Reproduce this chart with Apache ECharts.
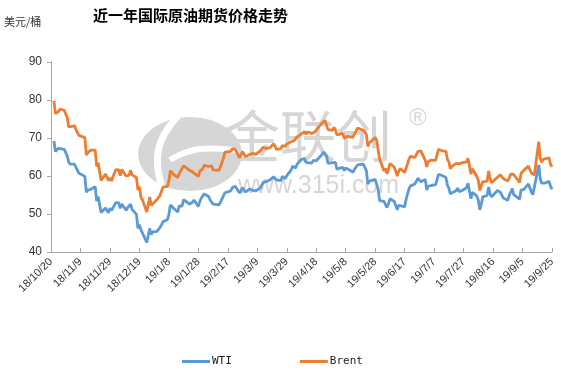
<!DOCTYPE html>
<html>
<head>
<meta charset="utf-8">
<script src="https://cdn.jsdelivr.net/npm/echarts@6/dist/echarts.min.js"></script>
<style>
  html, body { margin: 0; padding: 0; background: #fff; }
  #chart { width: 561px; height: 378px; }
</style>
</head>
<body>
<div id="chart"></div>
<script>
const START_DATE = '2018-10-20'
const Y_TICKS = [40, 50, 60, 70, 80, 90]

const tradeDates = [
  '2018-10-22', '2018-10-23', '2018-10-24', '2018-10-25', '2018-10-26', '2018-10-29', '2018-10-30', '2018-10-31',
  '2018-11-01', '2018-11-02', '2018-11-05', '2018-11-06', '2018-11-07', '2018-11-08', '2018-11-09', '2018-11-12',
  '2018-11-13', '2018-11-14', '2018-11-15', '2018-11-16', '2018-11-19', '2018-11-20', '2018-11-21', '2018-11-23',
  '2018-11-26', '2018-11-27', '2018-11-28', '2018-11-29', '2018-11-30', '2018-12-03', '2018-12-04', '2018-12-05',
  '2018-12-06', '2018-12-07', '2018-12-10', '2018-12-11', '2018-12-12', '2018-12-13', '2018-12-14', '2018-12-17',
  '2018-12-18', '2018-12-19', '2018-12-20', '2018-12-21', '2018-12-24', '2018-12-26', '2018-12-27', '2018-12-28',
  '2018-12-31', '2019-01-02', '2019-01-03', '2019-01-04', '2019-01-07', '2019-01-08', '2019-01-09', '2019-01-10',
  '2019-01-11', '2019-01-14', '2019-01-15', '2019-01-16', '2019-01-17', '2019-01-18', '2019-01-22', '2019-01-23',
  '2019-01-24', '2019-01-25', '2019-01-28', '2019-01-29', '2019-01-30', '2019-01-31', '2019-02-01', '2019-02-04',
  '2019-02-05', '2019-02-06', '2019-02-07', '2019-02-08', '2019-02-11', '2019-02-12', '2019-02-13', '2019-02-14',
  '2019-02-15', '2019-02-19', '2019-02-20', '2019-02-21', '2019-02-22', '2019-02-25', '2019-02-26', '2019-02-27',
  '2019-02-28', '2019-03-01', '2019-03-04', '2019-03-05', '2019-03-06', '2019-03-07', '2019-03-08', '2019-03-11',
  '2019-03-12', '2019-03-13', '2019-03-14', '2019-03-15', '2019-03-18', '2019-03-19', '2019-03-20', '2019-03-21',
  '2019-03-22', '2019-03-25', '2019-03-26', '2019-03-27', '2019-03-28', '2019-03-29', '2019-04-01', '2019-04-02',
  '2019-04-03', '2019-04-04', '2019-04-05', '2019-04-08', '2019-04-09', '2019-04-10', '2019-04-11', '2019-04-12',
  '2019-04-15', '2019-04-16', '2019-04-17', '2019-04-18', '2019-04-22', '2019-04-23', '2019-04-24', '2019-04-25',
  '2019-04-26', '2019-04-29', '2019-04-30', '2019-05-01', '2019-05-02', '2019-05-03', '2019-05-06', '2019-05-07',
  '2019-05-08', '2019-05-09', '2019-05-10', '2019-05-13', '2019-05-14', '2019-05-15', '2019-05-16', '2019-05-17',
  '2019-05-20', '2019-05-21', '2019-05-22', '2019-05-23', '2019-05-24', '2019-05-28', '2019-05-29', '2019-05-30',
  '2019-05-31', '2019-06-03', '2019-06-04', '2019-06-05', '2019-06-06', '2019-06-07', '2019-06-10', '2019-06-11',
  '2019-06-12', '2019-06-13', '2019-06-14', '2019-06-17', '2019-06-18', '2019-06-19', '2019-06-20', '2019-06-21',
  '2019-06-24', '2019-06-25', '2019-06-26', '2019-06-27', '2019-06-28', '2019-07-01', '2019-07-02', '2019-07-03',
  '2019-07-05', '2019-07-08', '2019-07-09', '2019-07-10', '2019-07-11', '2019-07-12', '2019-07-15', '2019-07-16',
  '2019-07-17', '2019-07-18', '2019-07-19', '2019-07-22', '2019-07-23', '2019-07-24', '2019-07-25', '2019-07-26',
  '2019-07-29', '2019-07-30', '2019-07-31', '2019-08-01', '2019-08-02', '2019-08-05', '2019-08-06', '2019-08-07',
  '2019-08-08', '2019-08-09', '2019-08-12', '2019-08-13', '2019-08-14', '2019-08-15', '2019-08-16', '2019-08-19',
  '2019-08-20', '2019-08-21', '2019-08-22', '2019-08-23', '2019-08-26', '2019-08-27', '2019-08-28', '2019-08-29',
  '2019-08-30', '2019-09-03', '2019-09-04', '2019-09-05', '2019-09-06', '2019-09-09', '2019-09-10', '2019-09-11',
  '2019-09-12', '2019-09-13', '2019-09-16', '2019-09-17', '2019-09-18', '2019-09-19', '2019-09-20', '2019-09-23',
  '2019-09-24', '2019-09-25',
]

const wtiPrices = [
  69.2, 66.4, 66.8, 67.3, 67.6, 67.0, 66.2, 65.3,
  63.7, 63.1, 63.1, 62.2, 61.7, 60.7, 60.2, 59.9,
  55.7, 56.3, 56.5, 56.5, 57.2, 53.4, 54.6, 50.4,
  51.6, 51.6, 50.3, 51.5, 50.9, 53.0, 53.3, 52.9,
  51.5, 52.6, 51.0, 51.7, 51.2, 52.6, 51.2, 49.9,
  46.2, 47.2, 45.9, 45.6, 42.5, 46.2, 44.6, 45.3,
  45.4, 46.5, 47.1, 48.0, 48.5, 49.8, 52.4, 52.6,
  51.6, 50.5, 52.1, 52.3, 52.1, 53.8, 52.6, 52.6,
  53.1, 53.7, 52.0, 53.3, 54.2, 53.8, 55.3, 54.6,
  53.7, 54.0, 52.6, 52.7, 52.4, 53.1, 53.9, 54.4,
  55.6, 56.1, 56.9, 57.3, 57.3, 55.5, 55.5, 56.9,
  57.2, 55.8, 56.6, 56.6, 56.2, 56.7, 56.1, 56.8,
  56.9, 58.3, 58.6, 58.5, 59.1, 59.0, 59.8, 60.0,
  59.0, 58.8, 59.9, 59.4, 59.3, 60.1, 61.6, 62.6,
  62.5, 62.1, 63.1, 64.4, 64.1, 64.6, 63.6, 63.9,
  63.4, 64.1, 63.8, 64.0, 65.7, 66.3, 65.9, 65.2,
  63.3, 63.5, 63.9, 63.6, 61.8, 61.9, 62.3, 61.4,
  62.1, 61.7, 61.7, 61.0, 61.8, 62.0, 62.9, 62.8,
  63.1, 63.0, 61.4, 57.9, 58.6, 59.1, 58.8, 56.6,
  53.5, 53.3, 53.5, 51.7, 52.6, 54.0, 53.3, 53.3,
  51.1, 52.3, 52.5, 51.9, 53.9, 53.8, 56.7, 57.4,
  57.9, 57.8, 59.4, 59.4, 58.5, 59.1, 56.3, 57.3,
  57.5, 57.7, 57.8, 60.4, 60.2, 60.2, 59.6, 57.6,
  56.8, 55.3, 55.6, 56.2, 56.8, 55.9, 56.0, 56.2,
  56.9, 58.1, 58.6, 54.0, 55.7, 54.7, 53.6, 51.1,
  52.5, 54.5, 54.9, 57.1, 55.2, 54.5, 54.9, 56.2,
  56.3, 55.7, 55.4, 54.2, 53.6, 54.9, 55.8, 56.7,
  55.1, 53.9, 56.3, 56.3, 56.5, 57.9, 57.4, 55.8,
  55.1, 54.9, 62.9, 59.3, 58.1, 58.1, 58.1, 58.6,
  57.3, 56.5,
]

const brentPrices = [
  79.8, 76.4, 76.2, 76.9, 77.6, 77.3, 76.3, 75.5,
  72.9, 72.8, 73.2, 72.1, 72.1, 70.7, 70.2, 70.1,
  65.5, 66.1, 66.6, 66.8, 66.8, 62.5, 63.5, 58.8,
  60.5, 60.2, 58.8, 59.5, 58.7, 61.7, 62.1, 61.6,
  60.1, 61.7, 60.0, 60.2, 60.2, 61.5, 60.3, 59.6,
  56.3, 57.2, 54.4, 53.8, 50.5, 54.5, 52.2, 52.2,
  53.8, 54.9, 56.0, 57.1, 57.3, 58.7, 61.4, 61.7,
  60.5, 59.6, 60.6, 61.3, 61.2, 62.7, 61.5, 61.1,
  61.1, 61.6, 59.9, 61.3, 61.7, 61.9, 62.8, 62.5,
  62.0, 62.7, 61.6, 62.1, 61.5, 62.4, 63.6, 64.6,
  66.3, 66.5, 67.1, 67.1, 67.1, 64.8, 65.2, 66.4,
  66.3, 65.1, 65.7, 65.9, 66.0, 66.3, 65.7, 66.6,
  66.7, 67.6, 67.2, 67.2, 67.5, 67.6, 68.5, 67.9,
  67.0, 67.2, 68.0, 67.8, 67.8, 68.4, 69.0, 69.4,
  69.3, 69.4, 70.3, 71.1, 70.6, 71.7, 71.0, 71.6,
  71.2, 71.7, 71.6, 72.0, 74.0, 74.5, 74.6, 74.4,
  72.2, 72.0, 72.8, 72.2, 70.8, 70.9, 71.2, 69.9,
  70.4, 70.4, 70.6, 70.2, 71.2, 71.8, 72.6, 72.2,
  72.0, 72.2, 71.0, 67.8, 68.7, 70.1, 69.5, 66.9,
  64.5, 61.3, 62.0, 60.6, 61.7, 63.3, 62.3, 62.3,
  60.0, 61.3, 62.0, 60.9, 62.1, 61.8, 64.5, 65.2,
  64.9, 65.1, 66.5, 66.6, 66.6, 64.1, 62.4, 63.8,
  64.2, 64.1, 64.2, 67.0, 66.5, 66.7, 66.5, 64.4,
  63.7, 61.9, 62.5, 63.3, 63.8, 63.2, 63.4, 63.5,
  63.7, 64.7, 65.2, 60.5, 61.9, 59.8, 58.9, 56.2,
  57.4, 58.5, 58.6, 61.3, 59.5, 58.2, 58.6, 59.7,
  60.0, 60.3, 59.9, 59.3, 58.7, 59.5, 60.5, 60.1,
  60.4, 58.3, 60.7, 61.0, 61.5, 62.6, 62.4, 60.8,
  60.4, 60.2, 69.0, 64.6, 63.6, 64.4, 64.3, 64.8,
  63.1, 62.4,
]

const DAY_MS = 86400000
const startTime = Date.parse(START_DATE + 'T00:00:00Z')

function dayOffset(dateStr) {
  return Math.round((Date.parse(dateStr + 'T00:00:00Z') - startTime) / DAY_MS)
}

function formatDay(offset) {
  const d = new Date(startTime + offset * DAY_MS)
  const yy = String(d.getUTCFullYear()).slice(2)
  return `${yy}/${d.getUTCMonth() + 1}/${d.getUTCDate()}`
}

const wtiData = tradeDates.map((date, i) => [dayOffset(date), wtiPrices[i]])
const brentData = tradeDates.map((date, i) => [dayOffset(date), brentPrices[i]])

const watermarkGray = '#d6d6d6'

const chart = echarts.init(document.getElementById('chart'), null, { renderer: 'canvas' })
chart.setOption({
  animation: false,
  backgroundColor: '#ffffff',
  title: {
    text: '近一年国际原油期货价格走势',
    left: 88,
    top: 3,
    textStyle: {
      fontFamily: 'Noto Sans CJK SC, sans-serif',
      fontSize: 15,
      fontWeight: 'bold',
      color: '#000000',
    },
  },
  graphic: [
    {
      type: 'text',
      left: 4,
      top: 16,
      style: {
        text: '美元/桶',
        fill: '#333333',
        font: '11px "Noto Sans CJK SC", sans-serif',
      },
    },
    // watermark logo
    {
      type: 'circle',
      z: 0,
      x: 190,
      y: 154,
      scaleX: 1.4,
      scaleY: 1,
      shape: { cx: 0, cy: 0, r: 37 },
      style: { fill: watermarkGray },
    },
    {
      type: 'polyline',
      z: 0,
      shape: { points: [[178, 116], [158, 152], [166, 198]], smooth: 0.5 },
      style: { stroke: '#ffffff', lineWidth: 7, fill: null },
    },
    {
      type: 'polyline',
      z: 0,
      shape: { points: [[170, 160], [200, 149], [244, 152]], smooth: 0.5 },
      style: { stroke: '#ffffff', lineWidth: 6, fill: null },
    },
    {
      type: 'text',
      z: 0,
      x: 224,
      y: 108,
      style: {
        text: '金联创',
        fill: watermarkGray,
        font: '56px "Noto Sans CJK SC", sans-serif',
      },
    },
    {
      type: 'text',
      z: 0,
      x: 238,
      y: 174,
      style: {
        text: 'www.315i.com',
        fill: watermarkGray,
        font: '25px "Liberation Sans", Arial, sans-serif',
      },
    },
    {
      type: 'text',
      z: 0,
      x: 409,
      y: 106,
      style: {
        text: '®',
        fill: watermarkGray,
        font: '24px "Liberation Sans", Arial, sans-serif',
      },
    },
  ],
  legend: {
    bottom: 6,
    left: 177,
    itemGap: 68,
    itemWidth: 28,
    itemHeight: 3,
    icon: 'rect',
    textStyle: {
      color: '#222222',
      fontSize: 11,
      fontFamily: 'DejaVu Sans Mono, monospace',
      padding: [0, 0, 0, -3],
    },
    data: ['WTI', 'Brent'],
  },
  grid: {
    left: 51,
    right: 9,
    top: 62,
    bottom: 126,
    outerBoundsMode: 'none',
  },
  xAxis: {
    type: 'value',
    min: 0,
    max: 340,
    interval: 20,
    splitLine: { show: false },
    axisLine: { show: true, lineStyle: { color: '#a6a6a6' } },
    axisTick: { show: true, inside: true, length: 4, lineStyle: { color: '#a6a6a6' } },
    axisLabel: {
      rotate: 45,
      color: '#333333',
      fontSize: 11,
      fontFamily: 'Liberation Sans, Arial, sans-serif',
      margin: 8,
      formatter: (value) => formatDay(value),
    },
  },
  yAxis: {
    type: 'value',
    min: Y_TICKS[0],
    max: Y_TICKS[Y_TICKS.length - 1],
    interval: 10,
    splitLine: { show: false },
    axisLine: { show: true, lineStyle: { color: '#a6a6a6' } },
    axisTick: { show: true, length: 4, lineStyle: { color: '#a6a6a6' } },
    axisLabel: {
      color: '#333333',
      fontSize: 12,
      fontFamily: 'Liberation Sans, Arial, sans-serif',
      margin: 9,
    },
  },
  series: [
    {
      name: 'WTI',
      type: 'line',
      data: wtiData,
      showSymbol: false,
      color: '#5B9BD5',
      lineStyle: { width: 2.8, color: '#5B9BD5' },
      z: 3,
    },
    {
      name: 'Brent',
      type: 'line',
      data: brentData,
      showSymbol: false,
      color: '#ED7D31',
      lineStyle: { width: 2.8, color: '#ED7D31' },
      z: 3,
    },
  ],
})
</script>
</body>
</html>
